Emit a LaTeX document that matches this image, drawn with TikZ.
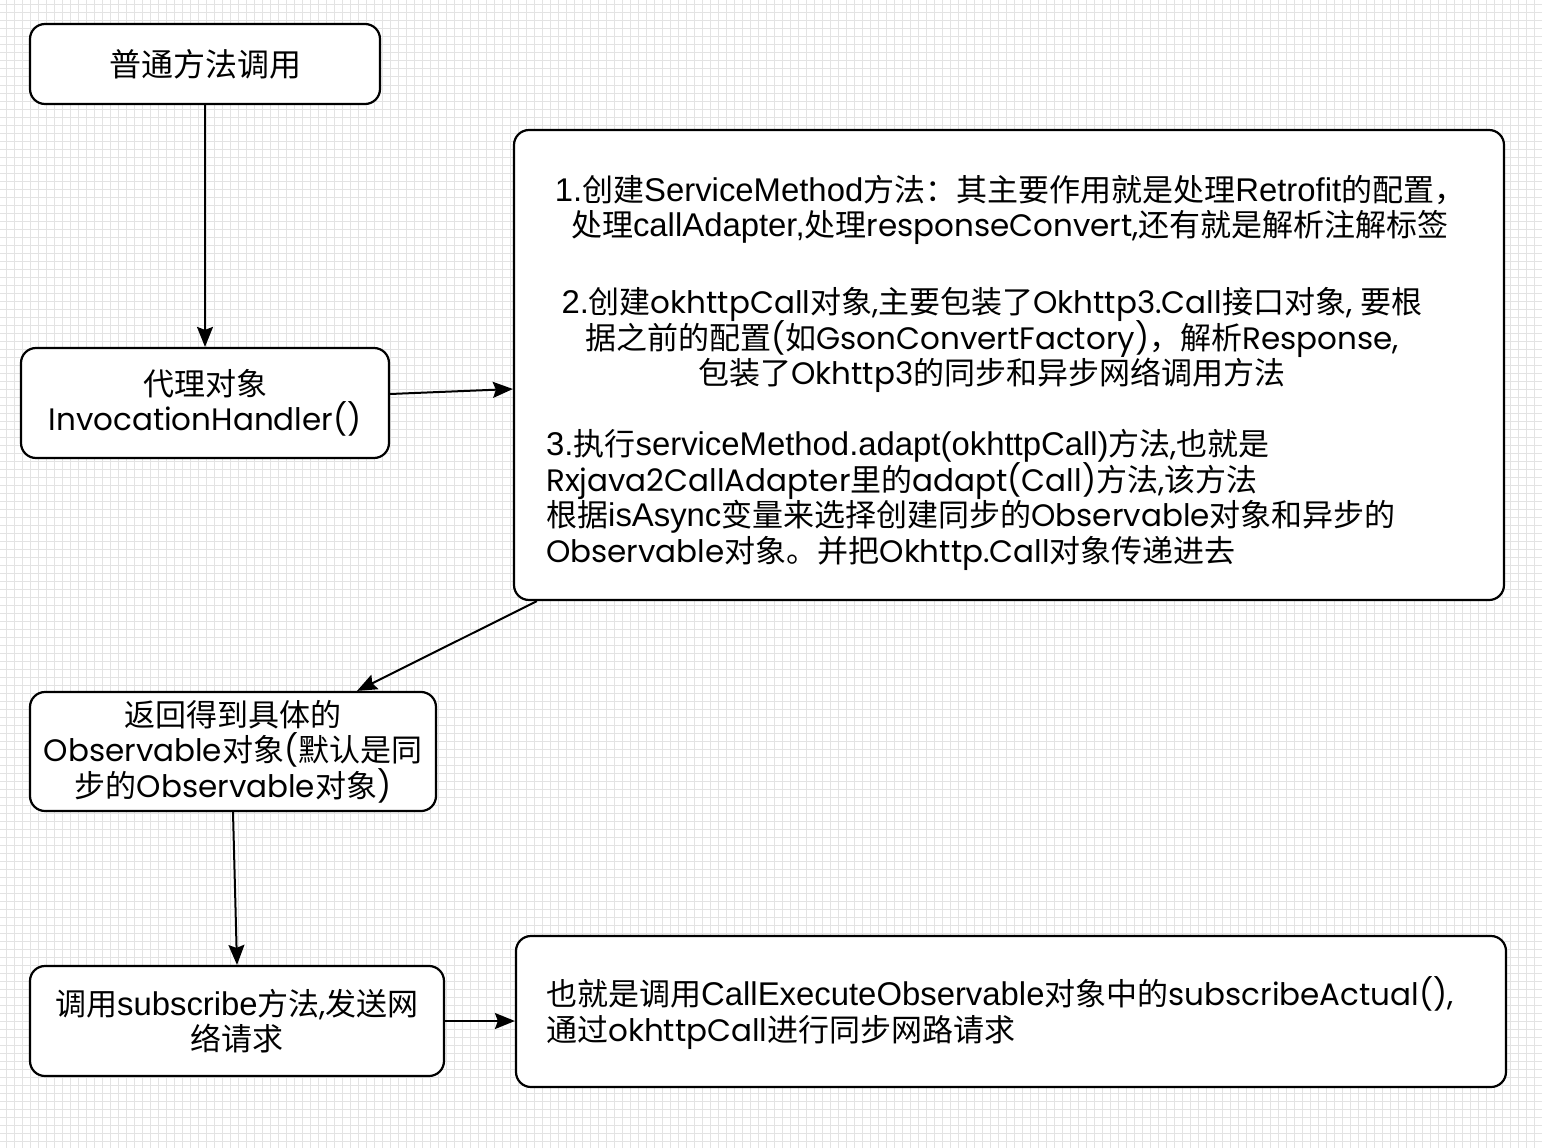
\documentclass[tikz,border=0pt]{standalone}
\usepackage{fontspec}
\usetikzlibrary{arrows.meta}
\setmainfont{Poppins}
\newfontfamily\zhfont{Noto Sans CJK SC}
\newfontfamily\hvfont[Scale=1.06]{Liberation Sans}
\newcommand\zh[1]{{\zhfont #1}}
\newcommand\hv[1]{{\hvfont #1}}
\newcommand\boxfont{\fontsize{31}{35.5}\selectfont\lineskiplimit=-30pt\relax}
\begin{document}
\begin{tikzpicture}[x=1pt,y=-1pt,
    gridline/.style={draw=black!11,line width=1pt},
    box/.style={draw,line width=2.2pt,rounded corners=15pt,fill=white,inner sep=0pt},
    txt/.style={inner sep=0pt,font=\boxfont},
    flow/.style={line width=2pt,-{Stealth[length=20pt,width=16pt,inset=3pt]}}]
    \useasboundingbox (0,0) rectangle (1542,1148);
    \fill[white] (0,0) rectangle (1542,1148);
    \foreach \gx in {6,14,...,1542} \draw[gridline] (\gx,0) -- (\gx,1148);
    \foreach \gy in {5,13,...,1148} \draw[gridline] (0,\gy) -- (1542,\gy);
    % boxes
    \node[box,minimum width=350pt,minimum height=80pt] (ordinary) at (205,64) {};
    \node[txt,font=\fontsize{32}{33}\selectfont] (ordinarytxt) at (ordinary) {\zh{普通方法调用}};
    \node[box,minimum width=368pt,minimum height=110pt] (proxy) at (205,403) {};
    \node[txt,align=center] (proxytxt) at (205,403) {\zh{代理对象}\\InvocationHandler()};
    \node[box,minimum width=990pt,minimum height=470pt] (steps) at (1009,365) {};
    \node[txt,align=center] (stepone) at (1010,210) {\hv{1.}\zh{创建}\hv{ServiceMethod}\zh{方法：其主要作用就是处理}\hv{Retrofit}\zh{的配置，}\\
        \zh{处理}\hv{callAdapter,}\zh{处理}responseConvert,\zh{还有就是解析注解标签}};
    \node[txt,align=center] (steptwo) at (992,340) {\hv{2.}\zh{创建}okhttpCall\zh{对象},\zh{主要包装了}Okhttp3.Call\zh{接口对象}, \zh{要根}\\
        \zh{据之前的配置}(\zh{如}GsonConvertFactory)\zh{，解析}Response,\\
        \zh{包装了}Okhttp3\zh{的同步和异步网络调用方法}};
    \node[txt,align=left,anchor=west] (stepthree) at (546,500) {\hv{3.}\zh{执行}\hv{serviceMethod.adapt(okhttpCall)}\zh{方法},\zh{也就是}\\
        Rxjava2CallAdapter\zh{里的}adapt(Call)\zh{方法},\zh{该方法}\\
        \zh{根据}\hv{isAsync}\zh{变量来选择创建同步的}Observable\zh{对象和异步的}\\
        Observable\zh{对象。并把}Okhttp.Call\zh{对象传递进去}};
    \node[box,minimum width=406pt,minimum height=119pt] (result) at (233,751.5) {};
    \node[txt,align=center] (resulttxt) at (233,751.5) {\zh{返回得到具体的}\\Observable\zh{对象}(\zh{默认是同}\\\zh{步的}Observable\zh{对象})};
    \node[box,minimum width=414pt,minimum height=110pt] (subscr) at (237,1021) {};
    \node[txt,align=center] (subscrtxt) at (237,1021) {\zh{调用}\hv{subscribe}\zh{方法},\zh{发送网}\\\zh{络请求}};
    \node[box,minimum width=990pt,minimum height=151pt] (actual) at (1011,1011.5) {};
    \node[txt,align=left,anchor=west] (actualtxt) at (546,1013) {\zh{也就是调用}\hv{CallExecuteObservable}\zh{对象中的}subscribeActual(),\\
        \zh{通过}okhttpCall\zh{进行同步网路请求}};
    % connectors
    \draw[flow] (ordinary) -- (proxy);
    \draw[flow] ([yshift=9pt]proxy.east) -- ([yshift=-24pt]steps.west);
    \draw[flow] ([xshift=24pt]steps.south west) -- ([xshift=124pt]result.north);
    \draw[flow] (result.south) -- (subscr.north);
    \draw[flow] (subscr.east) -- (subscr.east -| actual.west);
\end{tikzpicture}
\end{document}
